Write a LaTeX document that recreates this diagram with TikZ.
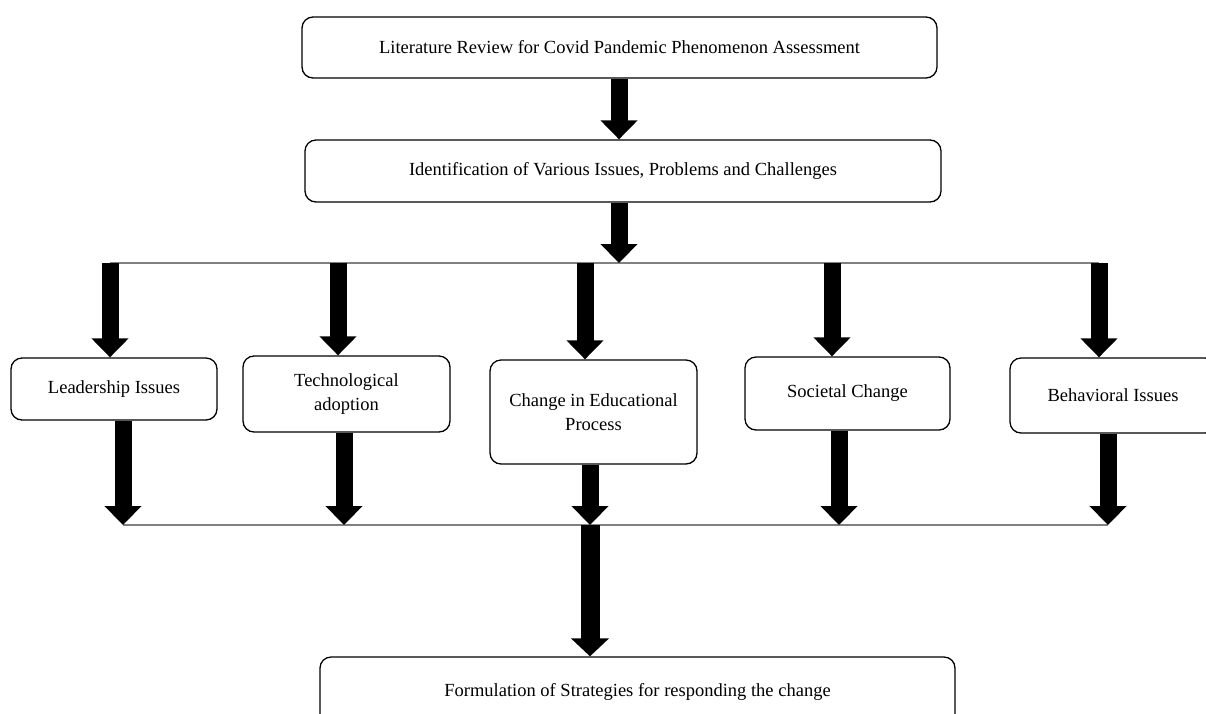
\documentclass[tikz,border=0pt]{standalone}
\usepackage{fontspec}
\setmainfont{Liberation Serif}
\usetikzlibrary{arrows.meta}

\tikzset{
  stagebox/.style={draw, line width=1.3pt, rounded corners=11pt, fill=white,
    align=center, inner sep=0pt, font=\fontsize{18.5}{24}\selectfont},
  blockarrow/.style={line width=17pt, -{Triangle[width=36pt,length=19pt]}},
  bigarrow/.style={line width=19pt, -{Triangle[width=37pt,length=18pt]}},
  busline/.style={gray, line width=1.6pt}
}

\begin{document}
\begin{tikzpicture}[x=1pt, y=-1pt]
  % Frame
  \fill[white] (0,0) rectangle (1206,713);
  \useasboundingbox (0,0) rectangle (1206,713);
  \clip (0,0) rectangle (1206,713);
  % Boxes
  \node[stagebox, minimum width=635pt, minimum height=61pt] (lit) at (619.5,47.5)
    {Literature Review for Covid Pandemic Phenomenon Assessment};
  \node[stagebox, minimum width=636pt, minimum height=62pt] (ident) at (623,171)
    {Identification of Various Issues, Problems and Challenges};
  \node[stagebox, minimum width=206pt, minimum height=62pt] (lead) at (114,389)
    {Leadership Issues};
  \node[stagebox, minimum width=207pt, minimum height=76pt] (tech) at (346.5,394)
    {Technological\\adoption};
  \node[stagebox, minimum width=207pt, minimum height=104pt] (edu) at (593.5,412)
    {Change in Educational\\Process};
  \node[stagebox, minimum width=205pt, minimum height=73pt] (soc) at (847.5,393.5)
    {Societal Change};
  \node[stagebox, minimum width=206pt, minimum height=75pt] (beh) at (1113,395.5)
    {Behavioral Issues};
  \node[stagebox, minimum width=635pt, minimum height=70pt] (strat) at (637.5,692)
    {Formulation of Strategies for responding the change};
  % Bus points
  \coordinate (t1) at (110,263);
  \coordinate (t2) at (338,263);
  \coordinate (t3) at (585,263);
  \coordinate (t4) at (832,263);
  \coordinate (t5) at (1099,263);
  \coordinate (hub) at (619,263);
  \coordinate (b1) at (123,525);
  \coordinate (b2) at (344,525);
  \coordinate (b3) at (590,525);
  \coordinate (b4) at (839,525);
  \coordinate (b5) at (1108,525);
  % Bus lines
  \draw[busline] (t1) -- (t5);
  \draw[busline] (b1) -- (b5);
  % Arrows
  \draw[blockarrow] (lit.south -| hub) -- (ident.north -| hub);
  \draw[blockarrow] (ident.south -| hub) -- (hub);
  \draw[blockarrow] (t1) -- (t1 |- lead.north);
  \draw[blockarrow] (t2) -- (t2 |- tech.north);
  \draw[blockarrow] (t3) -- (t3 |- edu.north);
  \draw[blockarrow] (t4) -- (t4 |- soc.north);
  \draw[blockarrow] (t5) -- (t5 |- beh.north);
  \draw[blockarrow] (b1 |- lead.south) -- (b1);
  \draw[blockarrow] (b2 |- tech.south) -- (b2);
  \draw[blockarrow] (b3 |- edu.south) -- (b3);
  \draw[blockarrow] (b4 |- soc.south) -- (b4);
  \draw[blockarrow] (b5 |- beh.south) -- (b5);
  \draw[bigarrow] (b3) -- (b3 |- strat.north);
\end{tikzpicture}
\end{document}
